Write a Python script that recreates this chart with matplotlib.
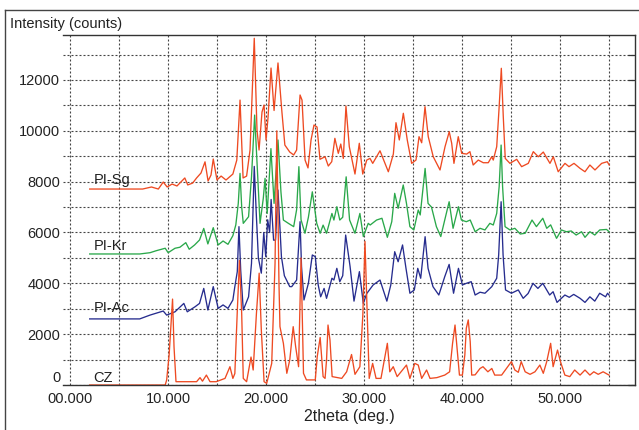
import numpy as np
import matplotlib
matplotlib.use("Agg")
import matplotlib.pyplot as plt
from matplotlib.lines import Line2D

plt.rcParams['font.family'] = ['Liberation Sans', 'DejaVu Sans']

# ---------------- data ----------------
sg_x = [2.0, 7.4, 8.3, 9.0, 9.5, 9.9, 10.4, 10.9, 11.7, 12.0, 12.5, 12.9, 13.35, 13.76, 14.07, 14.37, 14.6,
        14.98, 15.4, 15.9, 16.6, 17.0, 17.33, 17.64, 18.0, 18.35, 18.78, 19.06, 19.27, 19.57, 19.78, 19.98,
        20.18, 20.49, 20.8, 21.2, 21.6, 21.9, 22.4, 22.8, 23.1, 23.45, 23.65, 23.96, 24.26, 24.57, 24.87,
        25.18, 25.48, 26.0, 26.33, 26.68, 27.0, 27.35, 27.6, 27.86, 28.13, 28.47, 29.05, 29.49, 29.84,
        30.25, 30.58, 30.86, 31.6, 32.45, 32.96, 33.23, 33.57, 33.98, 34.38, 34.83, 35.27, 35.58, 35.85,
        36.19, 36.52, 37.03, 37.72, 38.23, 38.66, 38.91, 39.14, 39.58, 39.93, 40.44, 40.77, 41.1, 41.62,
        42.13, 42.64, 42.99, 43.15, 43.5, 43.73, 43.97, 44.17, 44.37, 44.85, 45.54, 46.04, 46.72, 47.23,
        47.74, 48.25, 48.93, 49.27, 49.77, 50.46, 50.87, 51.38, 51.99, 52.5, 53.0, 53.52, 54.2, 54.77, 54.97]
sg_y = [7710, 7710, 7790, 7710, 7985, 7790, 7905, 7830, 8145, 7870, 7945, 8145, 8340, 8780, 8025, 8260, 8890,
        8065, 8220, 8065, 8300, 8850, 11210, 8145, 8220, 9245, 13640, 10030, 9245, 10740, 11015, 9640,
        10500, 12470, 10800, 12670, 10740, 9440, 9165, 9050, 9245, 11410, 11210, 8850, 8540, 9640, 10230,
        10150, 8880, 8980, 8615, 8785, 9705, 9115, 9480, 8915, 10975, 9375, 8300, 9510, 8300,
        8850, 8915, 8720, 9215, 8390, 9085, 10320, 9640, 10690, 9640, 8720, 8850, 9770, 9530,
        10950, 9770, 8980, 8460, 9375, 9965, 9510, 8720, 9770, 9115, 9085, 9180, 8655, 8850,
        8745, 8745, 8980, 8850, 9375, 10820, 12460, 10555, 8915, 8720, 8880, 8590, 8720, 9180,
        8980, 9165, 8720, 8980, 8390, 8720, 8590, 8720, 8525, 8390, 8655, 8460, 8720, 8785, 8655]

kr_x = [2.0, 7.1, 8.15, 8.8, 9.7, 10.0, 10.7, 11.2, 11.8, 12.15, 12.7, 13.2, 13.63, 14.05, 14.6, 15.1, 15.6,
        16.1, 16.6, 16.9, 17.15, 17.33, 17.5, 17.66, 18.2, 18.5, 18.82, 19.1, 19.37, 19.7, 19.88, 20.1,
        20.48, 20.8, 21.2, 21.5, 21.75, 22.3, 22.8, 23.1, 23.33, 23.55, 23.95, 24.3, 24.7, 25.15, 25.5,
        25.8, 26.15, 26.7, 26.9, 27.2, 27.5, 27.8, 28.15, 28.5, 29.05, 29.55, 29.9, 30.4, 30.6, 31.25,
        31.8, 32.35, 32.8, 33.1, 33.45, 33.97, 34.3, 34.65, 35.05, 35.5, 35.7, 36.2, 36.5, 36.85, 37.35,
        37.8, 38.2, 38.65, 39.05, 39.6, 39.9, 40.4, 40.8, 41.3, 41.8, 42.3, 42.8, 43.15, 43.5, 43.75,
        43.95, 44.1, 44.35, 44.85, 45.35, 45.9, 46.4, 47.1, 47.55, 48.2, 48.6, 49.0, 49.6, 50.1, 50.6,
        51.1, 51.6, 52.15, 52.5, 53.0, 53.5, 54.0, 54.7, 54.95]
kr_y = [5155, 5155, 5205, 5285, 5380, 5205, 5380, 5420, 5600, 5340, 5510, 5705, 6160, 5550, 6190, 5510, 5665,
        5535, 5875, 6300, 7145, 8325, 7000, 6360, 6620, 8190, 10620, 8460, 6360, 7340, 8130, 6750,
        9300, 7145, 9640, 7600, 6490, 6350, 6230, 6900, 8590, 6500, 5970, 6600, 7600, 6360, 5970,
        6290, 5970, 6750, 6490, 7015, 6490, 6600, 8190, 6490, 5970, 6750, 5840, 6360, 6295, 6490,
        6560, 5810, 6425, 7540, 6950, 7870, 7145, 6230, 6100, 6885, 6690, 8520, 7145, 7000, 6230,
        5840, 6490, 7210, 6165, 7015, 6490, 6425, 6490, 6030, 6165, 6100, 6360, 6295, 6750, 7800,
        9440, 7800, 6230, 6100, 6165, 5940, 5970, 6490, 6230, 6560, 6165, 6300, 5770, 6100, 6030,
        6060, 5900, 6030, 5810, 6030, 5900, 6100, 6120, 6030]

ac_x = [2.0, 7.1, 8.15, 9.5, 9.85, 10.7, 11.6, 11.95, 12.75, 13.2, 13.63, 14.05, 14.6, 15.1, 15.6, 16.1,
        16.6, 16.8, 17.05, 17.22, 17.4, 17.66, 18.2, 18.5, 18.78, 19.0, 19.2, 19.5, 19.75, 19.95, 20.15,
        20.35, 20.5, 20.75, 20.95, 21.2, 21.55, 21.85, 22.4, 22.6, 23.1, 23.45, 23.6, 23.85, 24.3, 24.7,
        25.0, 25.3, 25.55, 25.9, 26.15, 26.7, 26.9, 27.2, 27.5, 27.8, 28.1, 28.55, 28.95, 29.5, 29.9,
        30.25, 30.9, 31.6, 32.3, 32.7, 33.1, 33.45, 33.9, 34.25, 34.65, 35.1, 35.45, 35.75, 36.2, 36.5,
        37.0, 37.6, 38.2, 38.65, 39.1, 39.6, 40.0, 40.4, 40.9, 41.3, 41.8, 42.3, 43.0, 43.5, 43.7, 43.95,
        44.15, 44.4, 45.0, 45.7, 46.2, 46.7, 47.2, 47.7, 48.2, 48.9, 49.25, 49.65, 50.45, 50.9, 51.35,
        52.0, 52.5, 53.0, 53.5, 54.0, 54.6, 54.8, 54.95]
ac_y = [2600, 2600, 2750, 2910, 2750, 2880, 3210, 2880, 3080, 3210, 3800, 2950, 3870, 3015, 3150, 3015,
        3345, 3870, 4460, 6230, 4500, 2950, 3470, 4790, 8600, 6620, 5000, 4400, 6000, 5050, 6500,
        6000, 7300, 5700, 5700, 7670, 5050, 4300, 3870, 3870, 4130, 6425, 4660, 3345, 4000, 5115,
        5050, 3935, 3470, 3800, 3410, 4200, 4130, 4590, 4065, 4300, 5900, 4660, 3300, 4460, 3210,
        3600, 3935, 4130, 3300, 3935, 5245, 4850, 5510, 4590, 3610, 3740, 4590, 4200, 5835, 4590,
        3870, 3540, 4260, 4745, 3610, 4590, 3935, 4000, 4065, 3540, 3650, 3610, 3870, 4200, 5115, 7210,
        5115, 3740, 3610, 3740, 3410, 3600, 4000, 3800, 4000, 3540, 3670, 3250, 3540, 3450, 3565,
        3410, 3250, 3470, 3300, 3610, 3470, 3610, 3540]

cz_x = [2.0, 9.7, 9.85, 10.1, 10.45, 10.6, 10.8, 12.9, 13.25, 13.5, 13.9, 14.27, 14.9, 15.8, 16.3, 16.6,
        16.8, 17.05, 17.27, 17.5, 17.66, 18.0, 18.45, 18.67, 19.0, 19.28, 19.5, 19.78, 20.05, 20.56,
        20.9, 21.08, 21.3, 21.4, 21.75, 22.1, 22.4, 22.75, 23.0, 23.3, 23.55, 23.8, 24.1, 25.0, 25.2,
        25.5, 25.8, 26.0, 26.15, 26.3, 26.5, 26.72, 27.7, 28.2, 28.7, 29.05, 29.55, 29.85, 30.07, 30.3,
        30.5, 30.85, 31.2, 31.7, 32.35, 32.6, 32.95, 33.35, 34.3, 34.65, 35.15, 35.5, 35.85, 36.35,
        36.7, 37.4, 38.2, 38.7, 39.0, 39.25, 39.4, 39.7, 40.0, 40.25, 40.4, 40.6, 40.8, 40.95, 41.3,
        41.8, 42.1, 42.6, 43.0, 43.3, 44.0, 45.0, 45.35, 45.7, 46.0, 46.4, 46.9, 47.4, 47.9, 48.25,
        48.6, 49.0, 49.25, 49.7, 50.0, 50.45, 50.95, 51.45, 52.0, 52.5, 53.0, 53.4, 53.85, 54.35, 54.95]
cz_y = [0, 0, 200, 1180, 3380, 1500, 130, 130, 290, 150, 390, 130, 130, 260, 720, 260,
        450, 2900, 4900, 2800, 260, 130, 1100, 590, 2800, 4400, 2165, 130, 65, 850,
        4790, 10000, 4000, 2295, 1640, 460, 985, 2295, 1510, 720, 5000, 460, 200, 200, 1115,
        1870, 330, 260, 985, 2360, 1770, 330, 260, 520, 1200, 420, 720, 2750, 5650, 2750,
        260, 850, 260, 260, 1640, 520, 720, 330, 785, 260, 850, 785, 260, 590,
        260, 290, 390, 520, 1640, 2360, 1700, 390, 390, 1180, 2230, 2560, 1700, 390, 400,
        650, 720, 520, 650, 390, 390, 920, 590, 500, 920, 520, 420, 520, 785, 460,
        920, 1640, 720, 1375, 920, 390, 330, 590, 390, 590, 390, 520, 420, 520, 390]

series_names = ["PI-Sg", "PI-Kr", "PI-Ac", "CZ"]
label_y = [7907, 5310, 2860, 130]
label_x = 2.37

x_major = [0, 10, 20, 30, 40, 50]
x_major_labels = ["00.000", "10.000", "20.000", "30.000", "40.000", "50.000"]
x_minor = [5, 15, 25, 35, 45, 55]
y_major = [0, 2000, 4000, 6000, 8000, 10000, 12000]
y_minor = [1000, 3000, 5000, 7000, 9000, 11000, 13000]

# ---------------- figure ----------------
W, H = 639, 430
fig = plt.figure(figsize=(W / 100, H / 100), dpi=100)
ax = fig.add_axes([63 / W, (H - 385) / H, (635 - 63) / W, (385 - 35) / H])

red = "#ee4a22"
green = "#2aa84a"
blue = "#262c8e"

ax.plot(sg_x, sg_y, color=red, lw=0.95)
ax.plot(kr_x, kr_y, color=green, lw=0.95)
ax.plot(ac_x, ac_y, color=blue, lw=0.95)
ax.plot(cz_x, cz_y, color=red, lw=0.95)

for name, ly in zip(series_names, label_y):
    ax.text(label_x, ly, name, fontsize=10.5, color="#222222", va="baseline", ha="left")

ax.set_xlim(-0.72, 57.6)
ax.set_ylim(0, 13770)

ax.set_xticks(x_major, x_major_labels)
ax.set_xticks(x_minor, minor=True)
ax.set_yticks(y_major, [str(v) for v in y_major])
ax.set_yticks(y_minor, minor=True)

ax.grid(True, which="both", color="#444444", linestyle=(0, (1.8, 1.8)), linewidth=0.8)
ax.set_axisbelow(True)

ax.tick_params(axis="y", which="both", left=False, right=True, direction="in", length=5,
               width=0.9, color="#333333", labelsize=10.5, pad=2, labelcolor="#222222")
ax.tick_params(axis="x", which="both", bottom=False, top=False, labelsize=10.5, pad=1.5,
               labelcolor="#222222")
# the "0" label sits just above the bottom axis, as in the reference
ax.get_yticklabels()[0].set_verticalalignment("bottom")

ax.spines["left"].set_visible(False)
for s in ["top", "right", "bottom"]:
    ax.spines[s].set_color("#333333")
    ax.spines[s].set_linewidth(1.0)

ax.set_xlabel("2theta (deg.)", fontsize=11.5, color="#222222", labelpad=2)

fig.text(10 / W, 1 - 24 / H, "Intensity (counts)", fontsize=10.5, color="#222222",
         va="center", ha="left")

# outer frame
fig.add_artist(Line2D([5 / W, 5 / W], [0, 1 - 10 / H], transform=fig.transFigure,
                      color="#444444", lw=1.0))
fig.add_artist(Line2D([5 / W, 1], [1 - 10 / H, 1 - 10 / H], transform=fig.transFigure,
                      color="#444444", lw=1.0))

fig.savefig("out.png", dpi=100)
